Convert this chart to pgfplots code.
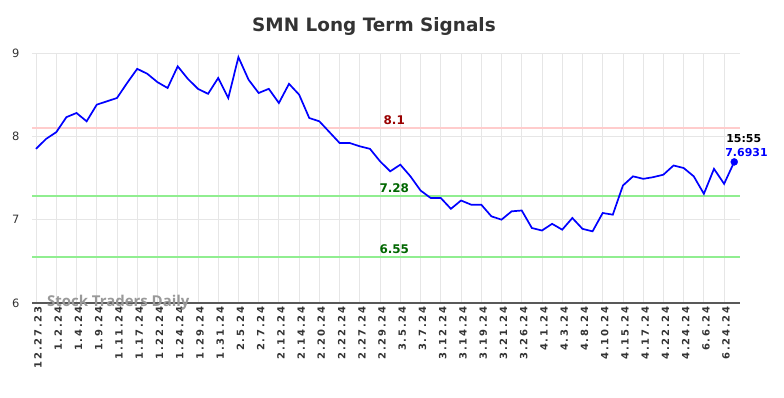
\documentclass[border=0pt]{standalone}
\usepackage{fontspec}
\setmainfont{DejaVu Sans}
\newfontfamily\wmfont{Open Sans}
\usepackage{pgfplots}
\pgfplotsset{compat=1.18}
\definecolor{gridc}{HTML}{E6E6E6}
\definecolor{titlec}{HTML}{333333}
\definecolor{resc}{HTML}{FFCCCC}
\definecolor{supc}{HTML}{90EE90}
\definecolor{reslab}{HTML}{990000}
\definecolor{suplab}{HTML}{006600}
\begin{document}
\begin{tikzpicture}
\path[use as bounding box] (0,0) rectangle (784bp,398bp);
\node[font=\bfseries\fontsize{18.5}{20}\selectfont, text=titlec] at (374bp,372bp) {SMN Long Term Signals};
\begin{axis}[
  at={(32bp,95bp)}, anchor=south west,
  scale only axis, width=708bp, height=250bp,
  xmin=-0.4, xmax=69.57, ymin=6, ymax=9,
  /pgf/number format/assume math mode=true,
  axis line style={draw=none},
  axis x line*=bottom,
  axis y line*=left,
  tick style={draw=none},
  grid=major, grid style={gridc, line width=0.8bp},
  xtick={0,2,...,68},
  xticklabels={12.27.23,1.2.24,1.4.24,1.9.24,1.11.24,1.17.24,1.22.24,1.24.24,1.29.24,1.31.24,2.5.24,2.7.24,2.12.24,2.14.24,2.20.24,2.22.24,2.27.24,2.29.24,3.5.24,3.7.24,3.12.24,3.14.24,3.19.24,3.21.24,3.26.24,4.1.24,4.3.24,4.8.24,4.10.24,4.15.24,4.17.24,4.22.24,4.24.24,6.6.24,6.24.24},
  xticklabel style={rotate=90, anchor=east, font=\bfseries\fontsize{10}{12}\selectfont\addfontfeature{LetterSpace=18}, text=titlec, yshift=-2bp},
  ytick={6,7,8,9},
  yticklabels={6,7,8,9},
  yticklabel style={font=\fontsize{11.5}{14}\selectfont, text=titlec, xshift=-9bp},
  clip=false,
]
\draw[gridc, line width=0.8bp] (axis cs:-0.4,9) -- (axis cs:69.57,9);
\addplot[resc, line width=2bp, forget plot] coordinates {(-0.4,8.1) (69.57,8.1)};
\addplot[supc, line width=2bp, forget plot] coordinates {(-0.4,7.28) (69.57,7.28)};
\addplot[supc, line width=2bp, forget plot] coordinates {(-0.4,6.55) (69.57,6.55)};
\draw[color=black!65, line width=1.3bp] (axis cs:-0.4,6) -- (axis cs:69.57,6);
\node[font=\bfseries\wmfont\fontsize{15}{17}\selectfont, text=black!40, anchor=west] at (axis cs:0.75,6.0) {Stock Traders Daily};
\addplot[blue, line width=1.7bp, mark=none] coordinates {
(0,7.85) (1,7.97) (2,8.05) (3,8.23) (4,8.28) (5,8.18) (6,8.38) (7,8.42) (8,8.46) (9,8.64)
(10,8.81) (11,8.75) (12,8.65) (13,8.58) (14,8.84) (15,8.69) (16,8.57) (17,8.51) (18,8.70) (19,8.46)
(20,8.95) (21,8.68) (22,8.52) (23,8.57) (24,8.40) (25,8.63) (26,8.50) (27,8.22) (28,8.18) (29,8.05)
(30,7.92) (31,7.92) (32,7.88) (33,7.85) (34,7.70) (35,7.58) (36,7.66) (37,7.52) (38,7.35) (39,7.26)
(40,7.26) (41,7.13) (42,7.23) (43,7.18) (44,7.18) (45,7.04) (46,7.00) (47,7.10) (48,7.11) (49,6.90)
(50,6.87) (51,6.95) (52,6.88) (53,7.02) (54,6.89) (55,6.86) (56,7.08) (57,7.06) (58,7.41) (59,7.52)
(60,7.49) (61,7.51) (62,7.54) (63,7.65) (64,7.62) (65,7.52) (66,7.31) (67,7.61) (68,7.43) (69,7.6931)
};
\addplot[blue, only marks, mark=*, mark size=3.5bp] coordinates {(69,7.6931)};
\node[font=\bfseries\fontsize{12}{14}\selectfont, text=reslab, anchor=south] at (axis cs:35.4,8.1) {8.1};
\node[font=\bfseries\fontsize{12}{14}\selectfont, text=suplab, anchor=south] at (axis cs:35.4,7.28) {7.28};
\node[font=\bfseries\fontsize{12}{14}\selectfont, text=suplab, anchor=south] at (axis cs:35.4,6.55) {6.55};
\node[font=\bfseries\fontsize{11}{13}\selectfont, text=black, anchor=west, inner sep=0pt] at (axis cs:68.2,7.97) {15:55};
\node[font=\bfseries\fontsize{11}{13}\selectfont, text=blue, anchor=west, inner sep=0pt] at (axis cs:68.1,7.81) {7.6931};
\end{axis}
\end{tikzpicture}
\end{document}
